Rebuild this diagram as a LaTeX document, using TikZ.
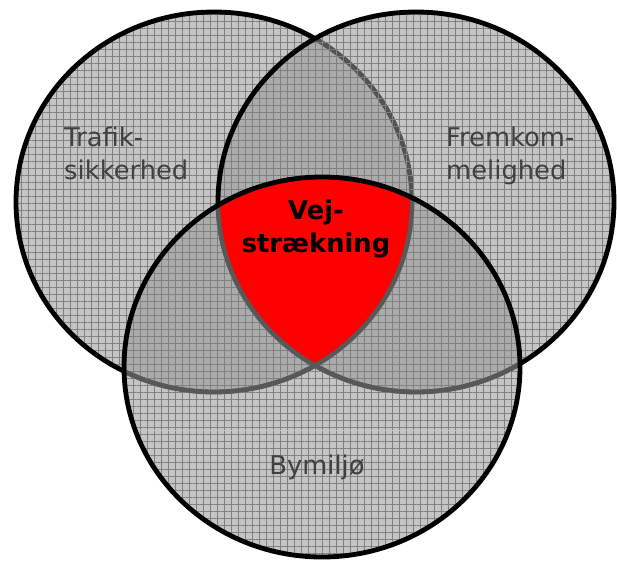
\documentclass[tikz,border=0pt]{standalone}
\usepackage{fontspec}
\setmainfont{DejaVu Sans}
\usepackage{tikz}
\usetikzlibrary{patterns.meta}
\definecolor{venngrey}{RGB}{150,150,150}
\definecolor{linegrey}{RGB}{88,88,88}
\definecolor{textgrey}{RGB}{64,64,64}
\definecolor{coreRed}{RGB}{255,0,0}
\tikzstyle{vennfill}=[fill=venngrey,fill opacity=0.55]
\tikzstyle{venngrid}=[pattern={Hatch[angle=0,distance=2.1mm,line width=0.2mm]},
                      pattern color=gray,fill opacity=0.18]
\tikzstyle{vennline}=[draw=black,line width=1.45mm]
\tikzstyle{areatext}=[font=\fontsize{22}{27.5}\selectfont,text=textgrey,
                      align=left,inner sep=0pt]
\tikzstyle{coretext}=[font=\fontsize{22}{27.5}\selectfont\bfseries,text=black,
                      align=center,inner sep=0pt]
\newcommand\xradius{59.4mm}
\newcommand\yradius{57mm}

\begin{document}
\begin{tikzpicture}[x=0.3mm,y=-0.3mm]
	\useasboundingbox (0,0) rectangle (617,560);
	\coordinate (trafik) at (214,202);
	\coordinate (fremkom) at (416,202);
	\coordinate (bymiljo) at (322,367);

	% the three sets, drawn one on top of the other
	\path [vennfill] (trafik) ellipse [x radius=\xradius,y radius=\yradius];
	\path [venngrid] (trafik) ellipse [x radius=\xradius,y radius=\yradius];
	\path [vennline] (trafik) ellipse [x radius=\xradius,y radius=\yradius];
	\path [vennfill] (fremkom) ellipse [x radius=\xradius,y radius=\yradius];
	\path [venngrid] (fremkom) ellipse [x radius=\xradius,y radius=\yradius];
	\path [vennline] (fremkom) ellipse [x radius=\xradius,y radius=\yradius];
	\path [vennfill] (bymiljo) ellipse [x radius=\xradius,y radius=\yradius];
	\path [venngrid] (bymiljo) ellipse [x radius=\xradius,y radius=\yradius];

	% the common part
	\begin{scope}
		\clip (trafik) ellipse [x radius=\xradius,y radius=\yradius];
		\clip (fremkom) ellipse [x radius=\xradius,y radius=\yradius];
		\fill [coreRed] (bymiljo) ellipse [x radius=\xradius,y radius=\yradius];
	\end{scope}
	\begin{scope}
		\clip (bymiljo) ellipse [x radius=\xradius,y radius=\yradius];
		\draw [linegrey,line width=1.3mm] (trafik) ellipse [x radius=\xradius,y radius=\yradius];
		\draw [linegrey,line width=1.3mm] (fremkom) ellipse [x radius=\xradius,y radius=\yradius];
	\end{scope}
	\path [vennline] (bymiljo) ellipse [x radius=\xradius,y radius=\yradius];

	\node [areatext,anchor=north west] (trafik label) at (64,127) {Trafik-\\sikkerhed};
	\node [areatext,anchor=north west] (fremkom label) at (446,127) {Fremkom-\\melighed};
	\node [areatext,anchor=base] (bymiljo label) at (317,474) {Bymiljø};
	\node [coretext,anchor=north] (core label) at (316,200) {Vej-\\strækning};
\end{tikzpicture}
\end{document}
